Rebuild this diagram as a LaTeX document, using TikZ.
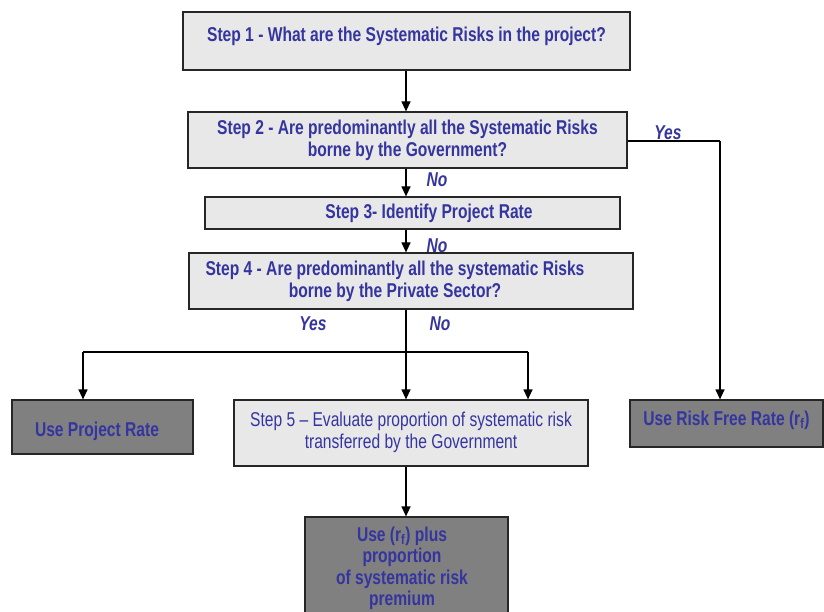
\documentclass[tikz,border=0pt]{standalone}
\usepackage{fontspec}
\setmainfont[FakeStretch=0.78]{Liberation Sans}
\usetikzlibrary{arrows.meta}
\definecolor{txtblue}{HTML}{3535A0}
\definecolor{lightbox}{HTML}{E8E8E8}
\definecolor{darkbox}{HTML}{808080}
\tikzset{
  base/.style={draw=black!85, line width=1.2pt, text=txtblue, align=center, inner sep=0pt},
  lbox/.style={base, fill=lightbox, font=\bfseries\fontsize{20}{22}\selectfont},
  lboxr/.style={base, fill=lightbox, font=\fontsize{20}{22}\selectfont},
  dbox/.style={base, fill=darkbox, font=\bfseries\fontsize{20}{21.5}\selectfont},
  arr/.style={line width=1.2pt, draw=black, -{Triangle[length=10pt,width=9pt]}},
  ln/.style={line width=1.2pt, draw=black},
  lbl/.style={text=txtblue, font=\bfseries\itshape\fontsize{20}{22}\selectfont, inner sep=0pt}
}
\begin{document}
\begin{tikzpicture}[x=1pt,y=-1pt]
\useasboundingbox (0,0) rectangle (824,612);
\clip (0,0) rectangle (824,612);
\node[lbox, minimum width=447pt, minimum height=58pt, text height=16pt, text depth=14pt] (b1) at (406.5,41) {Step 1 - What are the Systematic Risks in the project?};
\node[lbox, minimum width=439pt, minimum height=56pt] (b2) at (407.5,140) {Step 2 - Are predominantly all the Systematic Risks\\borne by the Government?};
\node[lbox, minimum width=415pt, minimum height=32pt] (b3) at (412.5,213) {\hspace*{33pt}Step 3- Identify Project Rate};
\node[lbox, minimum width=444pt, minimum height=56pt] (b4) at (411,281) {Step 4 - Are predominantly all the systematic Risks\hspace*{32pt}\\borne by the Private Sector?\hspace*{32pt}};
\node[lboxr, minimum width=354pt, minimum height=66pt] (b5) at (411,433) {\raisebox{4pt}{\begin{tabular}{@{}c@{}}Step 5 -- Evaluate proportion of systematic risk\\transferred by the Government\end{tabular}}};
\node[dbox, minimum width=181pt, minimum height=54pt, text height=26pt, text depth=8pt] (pr) at (102.5,427) {\hspace*{-11pt}Use Project Rate};
\node[dbox, minimum width=193pt, minimum height=47pt, text height=16pt, text depth=12pt] (rf) at (726.5,423.5) {Use Risk Free Rate (r\textsubscript{f})};
\node[dbox, minimum width=203pt, minimum height=103pt] (fin) at (406.5,568.5) {\hspace*{-9pt}Use (r\textsubscript{f}) plus\\\hspace*{-9pt}proportion\\\hspace*{-9pt}of systematic risk\\\hspace*{-9pt}premium};
\coordinate (j) at (406,352);
\coordinate (jl) at (83,352);
\coordinate (jr) at (528,352);
\coordinate (yc) at (720,141);
\draw[arr] (b1.south -| j) -- (b2.north -| j);
\draw[arr] (b2.south -| j) -- (b3.north -| j);
\draw[arr] (b3.south -| j) -- (b4.north -| j);
\draw[ln] (b4.south -| j) -- (j);
\draw[ln] (jl) -- (jr);
\draw[arr] (jl) -- (jl |- pr.north);
\draw[arr] (j) -- (j |- b5.north);
\draw[arr] (jr) -- (jr |- b5.north);
\draw[arr] (b5.south -| j) -- (j |- fin.north);
\draw[ln] (b2.east |- yc) -- (yc);
\draw[arr] (yc) -- (yc |- rf.north);
\node[lbl] (l1) at (437,180) {No};
\node[lbl] (l2) at (437,246) {No};
\node[lbl] (l3) at (313,324) {Yes};
\node[lbl] (l4) at (440,324) {No};
\node[lbl] (l5) at (668,133) {Yes};
\end{tikzpicture}
\end{document}
